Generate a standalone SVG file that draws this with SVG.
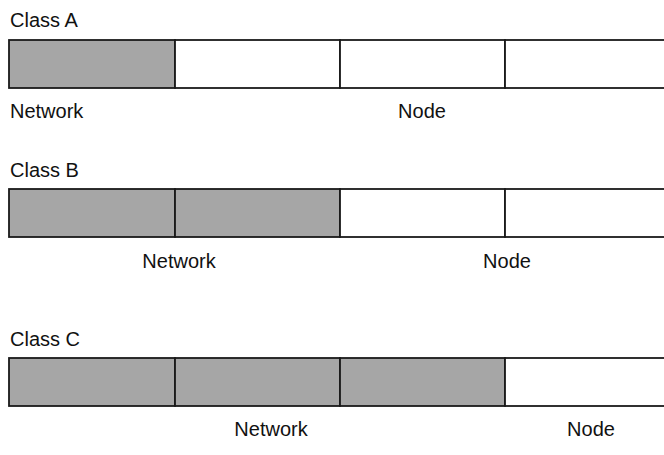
<svg xmlns="http://www.w3.org/2000/svg" width="664" height="455" viewBox="0 0 664 455">
<style>
  .t { font-family: "Liberation Sans", Arial, sans-serif; font-size: 20px; fill: #111; }
  .m { text-anchor: middle; }
  .net { fill: #a6a6a6; stroke: #1a1a1a; stroke-width: 1.8; }
  .host { fill: #ffffff; stroke: #1a1a1a; stroke-width: 1.8; }
</style>
<rect width="664" height="455" fill="#ffffff"/>
<g id="classA">
  <text class="t" x="10" y="27">Class A</text>
  <rect class="net" x="9" y="40" width="166" height="48"/>
  <rect class="host" x="175" y="40" width="165" height="48"/>
  <rect class="host" x="340" y="40" width="165" height="48"/>
  <rect class="host" x="505" y="40" width="170" height="48"/>
  <text class="t" x="10" y="118">Network</text>
  <text class="t m" x="422" y="118">Node</text>
</g>
<g id="classB">
  <text class="t" x="10" y="177">Class B</text>
  <rect class="net" x="9" y="189" width="166" height="48"/>
  <rect class="net" x="175" y="189" width="165" height="48"/>
  <rect class="host" x="340" y="189" width="165" height="48"/>
  <rect class="host" x="505" y="189" width="170" height="48"/>
  <text class="t m" x="179" y="268">Network</text>
  <text class="t m" x="507" y="268">Node</text>
</g>
<g id="classC">
  <text class="t" x="10" y="346">Class C</text>
  <rect class="net" x="9" y="358" width="166" height="48"/>
  <rect class="net" x="175" y="358" width="165" height="48"/>
  <rect class="net" x="340" y="358" width="165" height="48"/>
  <rect class="host" x="505" y="358" width="170" height="48"/>
  <text class="t m" x="271" y="436">Network</text>
  <text class="t m" x="591" y="436">Node</text>
</g>
<g id="connectors"></g>
</svg>
